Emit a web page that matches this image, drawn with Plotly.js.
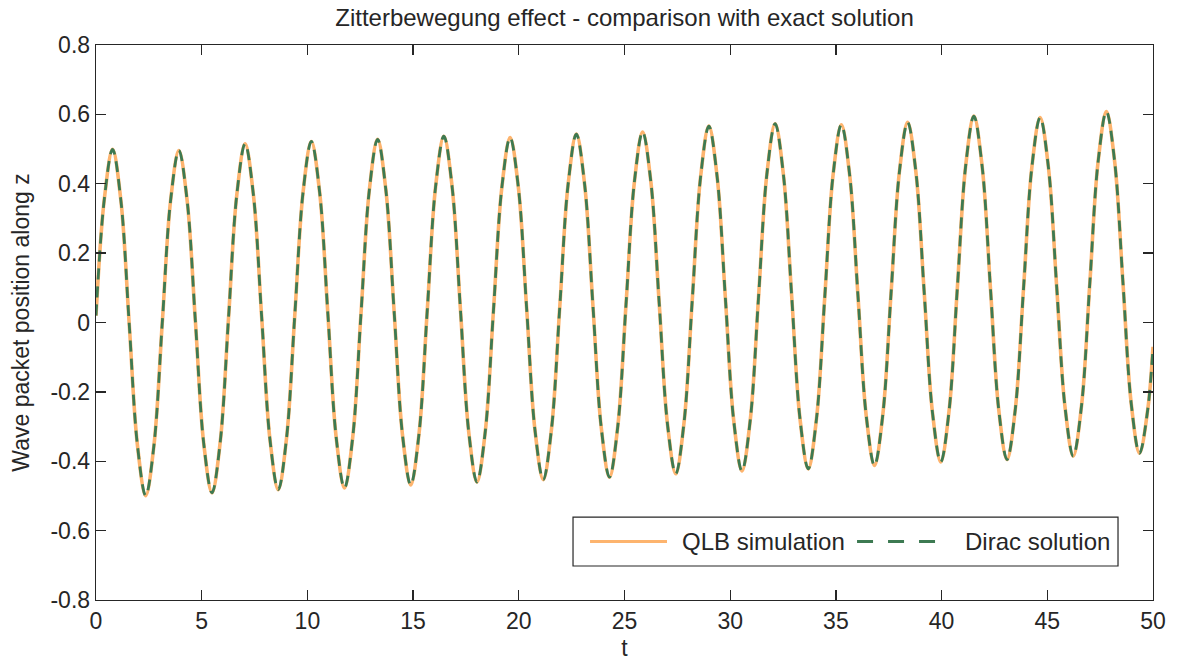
<!DOCTYPE html>
<html>
<head>
<meta charset="utf-8">
<script src="https://cdn.plot.ly/plotly-3.0.1.min.js"></script>
<style>
  html, body { margin: 0; padding: 0; background: #fff; }
  #chart { width: 1178px; height: 661px; }
</style>
</head>
<body>
<div id="chart"></div>
<script>
// Time samples (eight per oscillation period) and wave-packet position along z
const timeT = [
  0, 0.392, 0.784, 1.175, 1.567, 1.959, 2.351, 2.743,
  3.134, 3.526, 3.918, 4.310, 4.702, 5.093, 5.485, 5.877,
  6.268, 6.660, 7.052, 7.444, 7.836, 8.227, 8.619, 9.011,
  9.402, 9.794, 10.186, 10.578, 10.970, 11.361, 11.753, 12.145,
  12.536, 12.928, 13.320, 13.712, 14.104, 14.495, 14.887, 15.279,
  15.670, 16.062, 16.454, 16.846, 17.238, 17.629, 18.021, 18.413,
  18.804, 19.196, 19.588, 19.980, 20.372, 20.763, 21.155, 21.547,
  21.938, 22.330, 22.722, 23.114, 23.506, 23.897, 24.289, 24.681,
  25.072, 25.464, 25.856, 26.248, 26.640, 27.031, 27.423, 27.815,
  28.206, 28.598, 28.990, 29.382, 29.774, 30.165, 30.557, 30.949,
  31.340, 31.732, 32.124, 32.516, 32.908, 33.299, 33.691, 34.083,
  34.474, 34.866, 35.258, 35.650, 36.042, 36.433, 36.825, 37.217,
  37.608, 38.000, 38.392, 38.784, 39.176, 39.567, 39.959, 40.351,
  40.742, 41.134, 41.526, 41.918, 42.310, 42.701, 43.093, 43.485,
  43.876, 44.268, 44.660, 45.052, 45.444, 45.835, 46.227, 46.619,
  47.010, 47.402, 47.794, 48.186, 48.578, 48.969, 49.361, 49.753,
  50
];

// QLB simulation result
const qlbZ = [
  0.020, 0.355, 0.499, 0.353, 0.000, -0.353, -0.499, -0.353,
  -0.002, 0.350, 0.496, 0.352, 0.003, -0.347, -0.491, -0.344,
  0.012, 0.368, 0.515, 0.369, 0.017, -0.336, -0.482, -0.335,
  0.020, 0.375, 0.522, 0.376, 0.023, -0.331, -0.477, -0.330,
  0.026, 0.381, 0.528, 0.382, 0.030, -0.322, -0.468, -0.321,
  0.035, 0.390, 0.537, 0.391, 0.039, -0.314, -0.460, -0.315,
  0.037, 0.388, 0.533, 0.389, 0.040, -0.309, -0.453, -0.307,
  0.045, 0.397, 0.543, 0.398, 0.049, -0.301, -0.446, -0.300,
  0.052, 0.403, 0.549, 0.405, 0.057, -0.292, -0.436, -0.289,
  0.065, 0.419, 0.566, 0.420, 0.069, -0.282, -0.428, -0.281,
  0.073, 0.426, 0.573, 0.427, 0.076, -0.276, -0.422, -0.277,
  0.074, 0.425, 0.570, 0.426, 0.079, -0.268, -0.412, -0.267,
  0.083, 0.432, 0.577, 0.434, 0.088, -0.259, -0.402, -0.256,
  0.097, 0.449, 0.595, 0.450, 0.100, -0.250, -0.395, -0.251,
  0.098, 0.447, 0.591, 0.448, 0.103, -0.242, -0.385, -0.240,
  0.112, 0.463, 0.608, 0.464, 0.116, -0.233, -0.377, -0.250,
  -0.070
];

// Exact Dirac solution (coincides with the QLB curve at this scale)
const diracZ = [
  0.020, 0.355, 0.499, 0.353, 0.000, -0.353, -0.499, -0.353,
  -0.002, 0.350, 0.496, 0.352, 0.003, -0.347, -0.491, -0.344,
  0.012, 0.368, 0.515, 0.369, 0.017, -0.336, -0.482, -0.335,
  0.020, 0.375, 0.522, 0.376, 0.023, -0.331, -0.477, -0.330,
  0.026, 0.381, 0.528, 0.382, 0.030, -0.322, -0.468, -0.321,
  0.035, 0.390, 0.537, 0.391, 0.039, -0.314, -0.460, -0.315,
  0.037, 0.388, 0.533, 0.389, 0.040, -0.309, -0.453, -0.307,
  0.045, 0.397, 0.543, 0.398, 0.049, -0.301, -0.446, -0.300,
  0.052, 0.403, 0.549, 0.405, 0.057, -0.292, -0.436, -0.289,
  0.065, 0.419, 0.566, 0.420, 0.069, -0.282, -0.428, -0.281,
  0.073, 0.426, 0.573, 0.427, 0.076, -0.276, -0.422, -0.277,
  0.074, 0.425, 0.570, 0.426, 0.079, -0.268, -0.412, -0.267,
  0.083, 0.432, 0.577, 0.434, 0.088, -0.259, -0.402, -0.256,
  0.097, 0.449, 0.595, 0.450, 0.100, -0.250, -0.395, -0.251,
  0.098, 0.447, 0.591, 0.448, 0.103, -0.242, -0.385, -0.240,
  0.112, 0.463, 0.608, 0.464, 0.116, -0.233, -0.377, -0.250,
  -0.070
];

// Axis ticks
const xTickVals = [0, 5, 10, 15, 20, 25, 30, 35, 40, 45, 50];
const yTickVals = [-0.8, -0.6, -0.4, -0.2, 0, 0.2, 0.4, 0.6, 0.8];
const yTickText = ['-0.8', '-0.6', '-0.4', '-0.2', '0', '0.2', '0.4', '0.6', '0.8'];

const seriesNames = ['QLB simulation', 'Dirac solution'];
const orange = '#FDB46E';
const green = '#3D7A52';
const ink = '#262626';
const font = 'Liberation Sans, Arial, Helvetica, sans-serif';

const traces = [
  {
    x: timeT, y: qlbZ, name: seriesNames[0], type: 'scatter', mode: 'lines',
    line: { color: orange, width: 3.6, shape: 'spline', smoothing: 1 },
    showlegend: false, hoverinfo: 'skip'
  },
  {
    x: timeT, y: diracZ, name: seriesNames[1], type: 'scatter', mode: 'lines',
    line: { color: green, width: 2.8, dash: '11px,7px', shape: 'spline', smoothing: 1 },
    showlegend: false, hoverinfo: 'skip'
  }
];

// Boxed legend drawn in paper coordinates with long line samples
const legendBox = { x0: 0.4513, x1: 0.9669, y0: 0.0613, y1: 0.1495 };
const legendY = (legendBox.y0 + legendBox.y1) / 2;
const shapes = [
  { type: 'rect', xref: 'paper', yref: 'paper',
    x0: legendBox.x0, x1: legendBox.x1, y0: legendBox.y0, y1: legendBox.y1,
    line: { color: ink, width: 1.2 }, fillcolor: 'white', layer: 'above' },
  { type: 'line', xref: 'paper', yref: 'paper',
    x0: 0.4674, x1: 0.5402, y0: legendY, y1: legendY,
    line: { color: orange, width: 3 }, layer: 'above' },
  { type: 'line', xref: 'paper', yref: 'paper',
    x0: 0.7200, x1: 0.7938, y0: legendY, y1: legendY,
    line: { color: green, width: 3, dash: '16px,15px' }, layer: 'above' }
];
const annotations = [
  { xref: 'paper', yref: 'paper', x: 0.5525, y: legendY, xanchor: 'left', yanchor: 'middle',
    text: seriesNames[0], showarrow: false, font: { family: font, size: 24, color: ink } },
  { xref: 'paper', yref: 'paper', x: 0.8202, y: legendY, xanchor: 'left', yanchor: 'middle',
    text: seriesNames[1], showarrow: false, font: { family: font, size: 24, color: ink } }
];

const axisCommon = {
  showgrid: false, zeroline: false,
  showline: true, linecolor: ink, linewidth: 1.3, mirror: 'ticks',
  ticks: 'inside', ticklen: 10, tickwidth: 1.3, tickcolor: ink,
  tickfont: { family: font, size: 23, color: ink }
};

const layout = {
  width: 1178, height: 661,
  margin: { l: 96, r: 25, t: 45, b: 61 },
  paper_bgcolor: 'white', plot_bgcolor: 'white',
  font: { family: font, color: ink },
  title: {
    text: 'Zitterbewegung effect - comparison with exact solution',
    font: { family: font, size: 24, color: ink },
    xref: 'paper', x: 0.5, xanchor: 'center',
    yref: 'container', y: 0.973, yanchor: 'middle'
  },
  xaxis: Object.assign({}, axisCommon, {
    range: [0, 50], tickmode: 'array', tickvals: xTickVals,
    title: { text: 't', font: { family: font, size: 23, color: ink }, standoff: 10 }
  }),
  yaxis: Object.assign({}, axisCommon, {
    range: [-0.8, 0.8], tickmode: 'array', tickvals: yTickVals, ticktext: yTickText,
    title: { text: 'Wave packet position along z', font: { family: font, size: 23, color: ink }, standoff: 14 }
  }),
  shapes: shapes,
  annotations: annotations,
  showlegend: false
};

Plotly.newPlot('chart', traces, layout, { displayModeBar: false, staticPlot: true });
</script>
</body>
</html>
